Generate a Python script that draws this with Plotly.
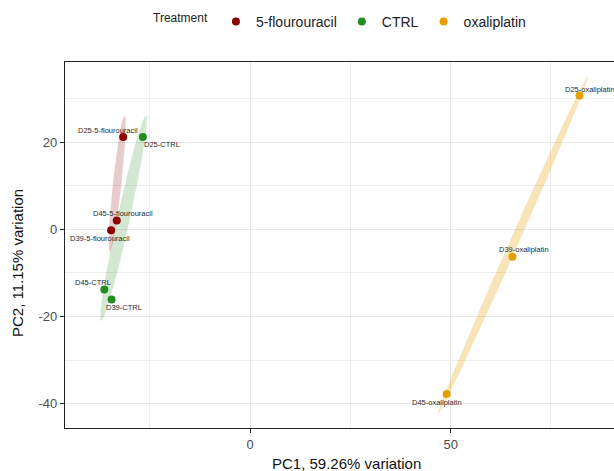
import numpy as np
import plotly.graph_objects as go

# ---- data ----
samples = ["D25-5-flourouracil", "D45-5-flourouracil", "D39-5-flourouracil",
           "D25-CTRL", "D45-CTRL", "D39-CTRL",
           "D25-oxaliplatin", "D39-oxaliplatin", "D45-oxaliplatin"]
treatment = ["5-flourouracil"] * 3 + ["CTRL"] * 3 + ["oxaliplatin"] * 3
pc1 = [-31.6, -33.2, -34.6, -26.7, -36.3, -34.5, 82.1, 65.4, 49.0]
pc2 = [21.2, 2.0, -0.2, 21.2, -13.8, -16.1, 30.7, -6.3, -37.8]
groups = ["5-flourouracil", "CTRL", "oxaliplatin"]

# ---- styles ----
colors = {"5-flourouracil": "#8B0000", "CTRL": "#228B22", "oxaliplatin": "#E69F00"}
fills = {"5-flourouracil": "rgba(139,0,0,0.20)", "CTRL": "rgba(34,139,34,0.20)",
         "oxaliplatin": "rgba(230,159,0,0.28)"}
# label placement offsets in pixels (xshift, yshift), like ggrepel
label_shift = [(-15, 6), (6, 7), (-11, -8), (19, -8), (-11, 7), (12, -8),
               (11, 6), (12, 7), (-10, -8)]

FONT = "Liberation Sans, Arial, Helvetica, sans-serif"
W, H = 614, 471
ML, MR, MT, MB = 65, 0, 62, 43


def ellipse(xs, ys, pad=5.0, k_minor=1.17, eps=0.5, n=161):
    pts = np.column_stack([xs, ys])
    c = (pts.max(axis=0) + pts.min(axis=0)) / 2.0
    cov = np.cov(pts.T)
    vals, vecs = np.linalg.eigh(cov)
    major = vecs[:, 1]
    minor = vecs[:, 0]
    a = np.abs((pts - c) @ major).max() + pad
    b = k_minor * np.sqrt(vals[0] + eps)
    t = np.linspace(0, 2 * np.pi, n)
    e = c + np.outer(a * np.cos(t), major) + np.outer(b * np.sin(t), minor)
    return e[:, 0], e[:, 1]


fig = go.Figure()

for g in groups:
    xs = [x for x, t in zip(pc1, treatment) if t == g]
    ys = [y for y, t in zip(pc2, treatment) if t == g]
    ex, ey = ellipse(xs, ys)
    fig.add_trace(go.Scatter(x=ex, y=ey, mode="lines", fill="toself",
                             fillcolor=fills[g], line=dict(width=0),
                             hoverinfo="skip", showlegend=False))

for g in groups:
    xs = [x for x, t in zip(pc1, treatment) if t == g]
    ys = [y for y, t in zip(pc2, treatment) if t == g]
    fig.add_trace(go.Scatter(x=xs, y=ys, mode="markers", name=g,
                             marker=dict(color=colors[g], size=8, line=dict(width=0))))

for s, x, y, (dx, dy) in zip(samples, pc1, pc2, label_shift):
    fig.add_annotation(x=x, y=y, text=s, showarrow=False, xshift=dx, yshift=dy,
                       font=dict(family=FONT, size=7.5, color="#2A2A2A"))

pw = W - ML - MR
ph = H - MT - MB
fig.add_annotation(xref="paper", yref="paper", x=(346 - ML) / pw, y=(H - MB - 463) / ph,
                   text="PC1, 59.26% variation", showarrow=False,
                   xanchor="center", yanchor="middle",
                   font=dict(family=FONT, size=15, color="#111111"))
fig.add_annotation(xref="paper", yref="paper", x=(17 - ML) / pw, y=(H - MB - 263) / ph,
                   text="PC2, 11.15% variation", showarrow=False, textangle=-90,
                   xanchor="center", yanchor="middle",
                   font=dict(family=FONT, size=15, color="#111111"))

fig.update_layout(
    width=W, height=H,
    margin=dict(l=ML, r=MR, t=MT, b=MB),
    paper_bgcolor="white", plot_bgcolor="white",
    font=dict(family=FONT),
    legend=dict(orientation="h", x=(341 - ML) / pw, xanchor="center",
                y=(H - MB - 22) / ph, yanchor="middle",
                title=dict(text="Treatment", side="left",
                           font=dict(family=FONT, size=12, color="#222222")),
                font=dict(family=FONT, size=14, color="#222222"),
                itemwidth=30, tracegroupgap=0),
    showlegend=True,
)
fig.update_xaxes(range=[-46.1, 90.7], tickvals=[0, 50], ticktext=["0", "50"],
                 showgrid=True, gridcolor="#E8E8E8", gridwidth=1,
                 minor=dict(tickvals=[-25, 25, 75], showgrid=True, gridcolor="#EEEEEE",
                            gridwidth=1, ticklen=0),
                 showline=True, linecolor="#222222", linewidth=1.3, mirror=True,
                 ticks="outside", ticklen=4, tickcolor="#222222", tickwidth=1.3,
                 tickfont=dict(family=FONT, size=13, color="#4D4D4D"),
                 zeroline=False)
fig.update_yaxes(range=[-45.6, 38.4], tickvals=[-40, -20, 0, 20],
                 ticktext=["-40", "-20", "0", "20"],
                 showgrid=True, gridcolor="#E8E8E8", gridwidth=1,
                 minor=dict(tickvals=[-30, -10, 10, 30], showgrid=True, gridcolor="#EEEEEE",
                            gridwidth=1, ticklen=0),
                 showline=True, linecolor="#222222", linewidth=1.3, mirror=False,
                 ticks="outside", ticklen=4, tickcolor="#222222", tickwidth=1.3,
                 tickfont=dict(family=FONT, size=13, color="#4D4D4D"),
                 zeroline=False)

fig.write_html("out.html")
